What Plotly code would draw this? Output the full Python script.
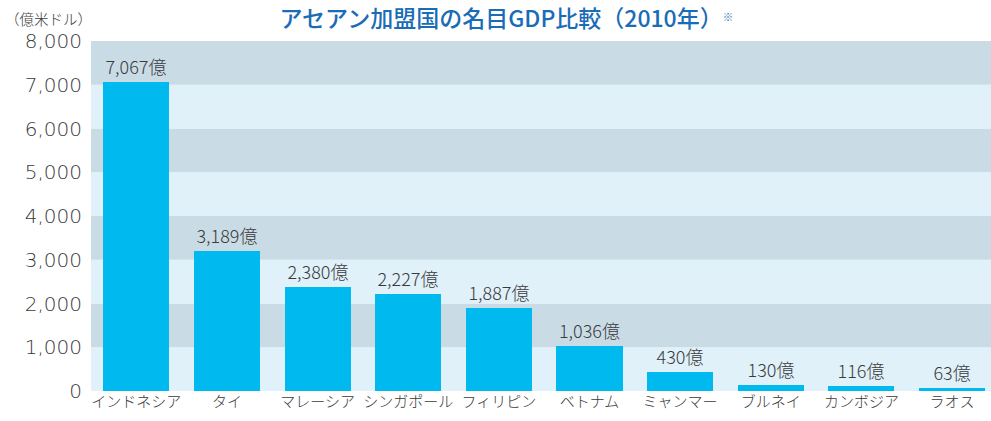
import plotly.graph_objects as go

countries = ["インドネシア", "タイ", "マレーシア", "シンガポール", "フィリピン",
             "ベトナム", "ミャンマー", "ブルネイ", "カンボジア", "ラオス"]
gdp = [7067, 3189, 2380, 2227, 1887, 1036, 430, 130, 116, 63]
y_ticks = [0, 1000, 2000, 3000, 4000, 5000, 6000, 7000, 8000]
y_tick_labels = ["0", "1,000", "2,000", "3,000", "4,000", "5,000", "6,000", "7,000", "8,000"]

FONT = "Noto Sans CJK JP"
DARK_BAND = "#c9dce6"
LIGHT_BAND = "#e0f1fa"
BAR = "#00b9ef"
TXT = "#3a3a3a"

labels = [f"{v:,}億" for v in gdp]

fig = go.Figure()
fig.add_trace(go.Bar(
    x=list(range(len(countries))), y=gdp,
    marker=dict(color=BAR, line=dict(width=0)),
    width=0.73,
    text=labels, textposition="outside",
    textfont=dict(family=FONT, size=18, color=TXT, weight=300),
    cliponaxis=False,
))

shapes = []
for i in range(len(y_ticks) - 1):
    shapes.append(dict(
        type="rect", xref="paper", yref="y", layer="below",
        x0=0, x1=1, y0=y_ticks[i], y1=y_ticks[i + 1],
        fillcolor=DARK_BAND if i % 2 == 1 else LIGHT_BAND,
        line=dict(width=0),
    ))

fig.update_layout(
    width=991, height=421,
    margin=dict(l=91, r=0, t=41, b=30),
    paper_bgcolor="white", plot_bgcolor="white",
    showlegend=False,
    shapes=shapes,
    title=dict(
        text="アセアン加盟国の名目GDP比較（2010年）<span style='font-size:15px'><sup>※</sup></span>",
        font=dict(family=FONT, size=23, color="#1a6cb6", weight=500),
        x=0.511, xanchor="center", y=1 - 19 / 421, yanchor="middle",
    ),
    xaxis=dict(
        range=[-0.5, 9.43],
        tickmode="array", tickvals=list(range(len(countries))), ticktext=countries,
        tickfont=dict(family=FONT, size=15, color=TXT, weight=300),
        showgrid=False, zeroline=False, showline=False, ticks="",
    ),
    yaxis=dict(
        range=[0, 8000],
        tickmode="array", tickvals=y_ticks, ticktext=y_tick_labels,
        tickfont=dict(family="DejaVu Sans", size=20, color=TXT, weight=300),
        showgrid=False, zeroline=False, showline=False, ticks="",
        ticklabelstandoff=8,
    ),
    annotations=[dict(
        text="（億米ドル）", xref="paper", yref="paper",
        x=(48 - 91) / 900, y=1.0, xanchor="center", yanchor="middle", yshift=23,
        showarrow=False,
        font=dict(family=FONT, size=14.5, color=TXT, weight=300),
    )],
    bargap=0,
)

fig.write_html("out.html", config={"displayModeBar": False},
               post_script="document.body.style.margin='0';")
